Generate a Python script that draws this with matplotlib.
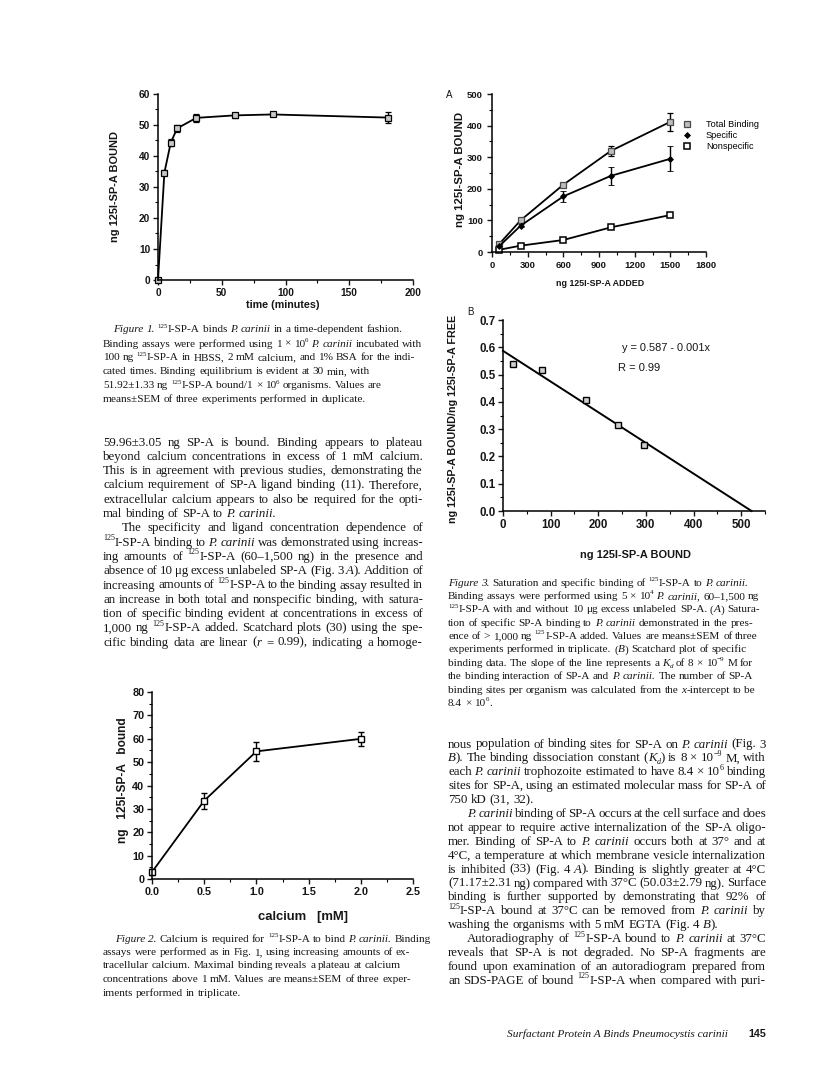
import matplotlib
matplotlib.use("Agg")
import matplotlib.pyplot as plt
from matplotlib.lines import Line2D
from matplotlib.ticker import MultipleLocator

W, H = 816, 1076
SANS = ["Liberation Sans", "DejaVu Sans"]
SERIF = ["Liberation Serif", "DejaVu Serif"]
INK = "#161616"

plt.rcParams["font.family"] = SANS
plt.rcParams["font.weight"] = "bold"
plt.rcParams["axes.linewidth"] = 1.1

# --- Figure 1: binding vs time ---
fig1_time = [0, 5, 10, 15, 30, 60, 90, 180]
fig1_bound = [0.0, 34.6, 44.3, 48.9, 52.3, 53.1, 53.4, 52.4]
fig1_sem = [0.4, 0.8, 1.2, 1.1, 1.2, 0.8, 0.5, 1.8]

# --- Figure 2: binding vs calcium ---
fig2_calcium = [0.0, 0.5, 1.0, 2.0]
fig2_bound = [3.0, 33.5, 54.6, 59.96]
fig2_sem = [1.2, 3.4, 4.2, 3.05]

# --- Figure 3A: saturation ---
fig3a_added = [60, 240, 600, 1000, 1500]
fig3a_total = [25, 100, 213, 320, 412]
fig3a_total_sem = [3, 4, 5, 17, 29]
fig3a_specific = [18, 83, 176, 241, 295]
fig3a_specific_sem = [3, 5, 17, 29, 39]
fig3a_nonspecific = [7, 20, 38, 78, 117]
fig3a_labels = ["Total Binding", "Specific", "Nonspecific"]

# --- Figure 3B: Scatchard ---
fig3b_bound = [20, 82, 175, 241, 295]
fig3b_ratio = [0.537, 0.515, 0.406, 0.315, 0.243]
fit_intercept = 0.587
fit_slope = -0.001125
fit_equation = "y = 0.587 - 0.001x"
fit_r = "R = 0.99"

# --- page text ---
fig1_caption = [
    "_Figure 1._ ^125^I-SP-A binds _P. carinii_ in a time-dependent fashion.",
    "Binding assays were performed using 1 × 10^6^ _P. carinii_ incubated with",
    "100 ng ^125^I-SP-A in HBSS, 2 mM calcium, and 1% BSA for the indi-",
    "cated times. Binding equilibrium is evident at 30 min, with",
    "51.92±1.33 ng ^125^I-SP-A bound/1 × 10^6^ organisms. Values are",
    "means±SEM of three experiments performed in duplicate.",
]
fig2_caption = [
    "_Figure 2._ Calcium is required for ^125^I-SP-A to bind _P. carinii._ Binding",
    "assays were performed as in Fig. 1, using increasing amounts of ex-",
    "tracellular calcium. Maximal binding reveals a plateau at calcium",
    "concentrations above 1 mM. Values are means±SEM of three exper-",
    "iments performed in triplicate.",
]
fig3_caption = [
    "_Figure 3._ Saturation and specific binding of ^125^I-SP-A to _P. carinii._",
    "Binding assays were performed using 5 × 10^4^ _P. carinii,_ 60–1,500 ng",
    "^125^I-SP-A with and without 10 μg excess unlabeled SP-A. (_A_) Satura-",
    "tion of specific SP-A binding to _P. carinii_ demonstrated in the pres-",
    "ence of > 1,000 ng ^125^I-SP-A added. Values are means±SEM of three",
    "experiments performed in triplicate. (_B_) Scatchard plot of specific",
    "binding data. The slope of the line represents a _K~d~_ of 8 × 10^−9^ M for",
    "the binding interaction of SP-A and _P. carinii._ The number of SP-A",
    "binding sites per organism was calculated from the _x_-intercept to be",
    "8.4 × 10^6^.",
]
left_par1 = [
    "59.96±3.05 ng SP-A is bound. Binding appears to plateau",
    "beyond calcium concentrations in excess of 1 mM calcium.",
    "This is in agreement with previous studies, demonstrating the",
    "calcium requirement of SP-A ligand binding (11). Therefore,",
    "extracellular calcium appears to also be required for the opti-",
    "mal binding of SP-A to _P. carinii._",
]
left_par2 = [
    "The specificity and ligand concentration dependence of",
    "^125^I-SP-A binding to _P. carinii_ was demonstrated using increas-",
    "ing amounts of ^125^I-SP-A (60–1,500 ng) in the presence and",
    "absence of 10 μg excess unlabeled SP-A (Fig. 3 _A_). Addition of",
    "increasing amounts of ^125^I-SP-A to the binding assay resulted in",
    "an increase in both total and nonspecific binding, with satura-",
    "tion of specific binding evident at concentrations in excess of",
    "1,000 ng ^125^I-SP-A added. Scatchard plots (30) using the spe-",
    "cific binding data are linear (_r_ = 0.99), indicating a homoge-",
]
right_par1 = [
    "nous population of binding sites for SP-A on _P. carinii_ (Fig. 3",
    "_B_). The binding dissociation constant (_K~d~_) is 8 × 10^−9^ M, with",
    "each _P. carinii_ trophozoite estimated to have 8.4 × 10^6^ binding",
    "sites for SP-A, using an estimated molecular mass for SP-A of",
    "750 kD (31, 32).",
]
right_par2 = [
    "_P. carinii_ binding of SP-A occurs at the cell surface and does",
    "not appear to require active internalization of the SP-A oligo-",
    "mer. Binding of SP-A to _P. carinii_ occurs both at 37° and at",
    "4°C, a temperature at which membrane vesicle internalization",
    "is inhibited (33) (Fig. 4 _A_). Binding is slightly greater at 4°C",
    "(71.17±2.31 ng) compared with 37°C (50.03±2.79 ng). Surface",
    "binding is further supported by demonstrating that 92% of",
    "^125^I-SP-A bound at 37°C can be removed from _P. carinii_ by",
    "washing the organisms with 5 mM EGTA (Fig. 4 _B_).",
]
right_par3 = [
    "Autoradiography of ^125^I-SP-A bound to _P. carinii_ at 37°C",
    "reveals that SP-A is not degraded. No SP-A fragments are",
    "found upon examination of an autoradiogram prepared from",
    "an SDS-PAGE of bound ^125^I-SP-A when compared with puri-",
]
footer_title = "Surfactant Protein A Binds Pneumocystis carinii"
footer_page = "145"

fig = plt.figure(figsize=(W / 100, H / 100), dpi=100)
renderer = fig.canvas.get_renderer()


def px_axes(left, top, right, bottom):
    return fig.add_axes([left / W, 1 - bottom / H, (right - left) / W, (bottom - top) / H])


def style_axes(ax, size, xmaj, xmin, ymaj, ymin, pad=2.0):
    ax.spines[["top", "right"]].set_visible(False)
    ax.patch.set_alpha(0)
    ax.xaxis.set_major_locator(MultipleLocator(xmaj))
    ax.xaxis.set_minor_locator(MultipleLocator(xmin))
    ax.yaxis.set_major_locator(MultipleLocator(ymaj))
    ax.yaxis.set_minor_locator(MultipleLocator(ymin))
    ax.tick_params(which="major", direction="out", length=3.5, width=1.0,
                   labelsize=size, pad=pad, colors=INK)
    ax.tick_params(which="minor", direction="out", length=2.0, width=0.8)


def no_clip(container):
    for art in container.get_children():
        art.set_clip_on(False)


def fit_label(x, y, s, length, rotation=0, weight="bold", ha="center"):
    # taglia il font in modo che il testo occupi `length` pixel
    t = fig.text(x / W, 1 - y / H, s, fontsize=10, rotation=rotation, ha=ha,
                 va="center", weight=weight, family=SANS, color=INK)
    bb = t.get_window_extent(renderer)
    cur = bb.height if rotation == 90 else bb.width
    t.set_fontsize(10 * length / cur)
    return t


# ---------------- Figure 1 ----------------
ax1 = px_axes(158, 94, 413, 280)
c = ax1.errorbar(fig1_time, fig1_bound, yerr=fig1_sem, color="k", lw=1.3,
                 marker="s", ms=4.2, mfc="#c8c8c8", mec="k", mew=0.9,
                 capsize=2.2, elinewidth=1.0, capthick=1.0)
no_clip(c)
ax1.set_xlim(0, 200)
ax1.set_ylim(0, 60)
style_axes(ax1, 7.3, 50, 25, 10, 5)
fit_label(115, 187, "ng 125I-SP-A BOUND", 110, rotation=90)
fit_label(283, 305, "time (minutes)", 74)

# ---------------- Figure 2 ----------------
ax2 = px_axes(152, 692, 413, 879)
c = ax2.errorbar(fig2_calcium, fig2_bound, yerr=fig2_sem, color="k", lw=1.3,
                 marker="s", ms=4.5, mfc="white", mec="k", mew=1.0,
                 capsize=2.4, elinewidth=1.0, capthick=1.0)
no_clip(c)
ax2.set_xlim(0, 2.5)
ax2.set_ylim(0, 80)
style_axes(ax2, 7.8, 0.5, 0.25, 10, 5)
fit_label(123, 780, "ng   125I-SP-A   bound", 125, rotation=90)
fit_label(303, 917, "calcium   [mM]", 90)

# ---------------- Figure 3A ----------------
ax3 = px_axes(492, 94, 706, 252)
s_total = dict(marker="s", ms=3.8, mfc="#bdbdbd", mec="#4a4a4a", mew=0.9)
s_spec = dict(marker="D", ms=3.0, mfc="k", mec="k", mew=0.6)
s_non = dict(marker="s", ms=3.8, mfc="white", mec="k", mew=1.1)
c = ax3.errorbar(fig3a_added, fig3a_total, yerr=fig3a_total_sem, color="k",
                 lw=1.3, capsize=2.2, elinewidth=1.0, capthick=1.0, **s_total)
no_clip(c)
c = ax3.errorbar(fig3a_added, fig3a_specific, yerr=fig3a_specific_sem, color="k",
                 lw=1.3, capsize=2.2, elinewidth=1.0, capthick=1.0, **s_spec)
no_clip(c)
ax3.plot(fig3a_added, fig3a_nonspecific, color="k", lw=1.3, clip_on=False, **s_non)
ax3.set_xlim(0, 1800)
ax3.set_ylim(0, 500)
style_axes(ax3, 6.8, 300, 150, 100, 50, pad=3.0)
handles = [Line2D([], [], ls="none", **s) for s in (s_total, s_spec, s_non)]
ax3.legend(handles, fig3a_labels, loc="upper left",
           bbox_to_anchor=(682 / W, 1 - 120 / H), bbox_transform=fig.transFigure,
           frameon=False, prop=dict(family=SANS, weight="normal", size=6.6),
           handlelength=1.0, handletextpad=1.6, labelspacing=0.22,
           borderpad=0, borderaxespad=0)
fit_label(460, 169, "ng 125I-SP-A BOUND", 114, rotation=90)
fit_label(600, 283, "ng 125I-SP-A ADDED", 88)
fig.text(449 / W, 1 - 95 / H, "A", fontsize=7, weight="normal", ha="center",
         va="center", color=INK)

# ---------------- Figure 3B ----------------
ax4 = px_axes(503, 320, 765, 511)
fit_x = [0, -fit_intercept / fit_slope]
fit_y = [fit_intercept + fit_slope * v for v in fit_x]
ax4.plot(fit_x, fit_y, color="k", lw=1.4, clip_on=False)
ax4.plot(fig3b_bound, fig3b_ratio, ls="none", marker="s", ms=4.5, mfc="#d0d0d0",
         mec="k", mew=1.0, clip_on=False)
ax4.set_xlim(0, 550)
ax4.set_ylim(0, 0.7)
style_axes(ax4, 8.3, 100, 50, 0.1, 0.05)
fit_label(453, 419, "ng 125I-SP-A BOUND/ng 125I-SP-A FREE", 208, rotation=90)
fit_label(635, 555, "ng 125I-SP-A BOUND", 111)
fit_label(622, 348, fit_equation, 88, weight="normal", ha="left")
fit_label(618, 368, fit_r, 42, weight="normal", ha="left")
fig.text(470 / W, 1 - 312 / H, "B", fontsize=7, weight="normal", ha="center",
         va="center", color=INK)


# ---------------- testo della pagina ----------------
def parse(line):
    # _ corsivo, ^ apice, ~ pedice
    words, cur, buf = [], [], []
    state = {"i": False, "sup": False, "sub": False}

    def flush():
        if buf:
            cur.append(("".join(buf), state["i"], state["sup"], state["sub"]))
            buf.clear()

    for ch in line:
        if ch == "_":
            flush(); state["i"] = not state["i"]
        elif ch == "^":
            flush(); state["sup"] = not state["sup"]
        elif ch == "~":
            flush(); state["sub"] = not state["sub"]
        elif ch == " ":
            flush()
            if cur:
                words.append(cur)
                cur = []
        else:
            buf.append(ch)
    flush()
    if cur:
        words.append(cur)
    return words


def make_words(line, size):
    out = []
    for word in parse(line):
        pieces = []
        for txt, ital, sup, sub in word:
            fs = size * (0.62 if (sup or sub) else 1.0)
            t = fig.text(0, 0, txt, fontsize=fs, family=SERIF, weight="normal",
                         style="italic" if ital else "normal", color=INK,
                         ha="left", va="baseline")
            w = t.get_window_extent(renderer).width
            shift = size * 0.42 if sup else (-size * 0.22 if sub else 0.0)
            pieces.append((t, w, shift))
        out.append(pieces)
    return out


def space_px(size):
    a = fig.text(0, 0, "n n", fontsize=size, family=SERIF, weight="normal")
    b = fig.text(0, 0, "nn", fontsize=size, family=SERIF, weight="normal")
    d = a.get_window_extent(renderer).width - b.get_window_extent(renderer).width
    a.remove(); b.remove()
    return d


def natural_width(line, size):
    words = make_words(line, size)
    total = sum(w for p in words for _, w, _ in p) + space_px(size) * (len(words) - 1)
    for p in words:
        for t, _, _ in p:
            t.remove()
    return total


def set_line(line, x0, x1, y, size, justify):
    words = make_words(line, size)
    widths = [sum(w for _, w, _ in p) for p in words]
    if justify and len(words) > 1:
        gap = (x1 - x0 - sum(widths)) / (len(words) - 1)
    else:
        gap = space_px(size)
    x = x0
    for p, wsum in zip(words, widths):
        for t, w, shift in p:
            t.set_position((x / W, 1 - (y - shift * 100 / 72) / H))
            x += w
        x += gap


def set_block(lines, x0, x1, y0, lead, size, indent=0, justify=True, last_full=False):
    for i, line in enumerate(lines):
        last = i == len(lines) - 1
        set_line(line, x0 + (indent if i == 0 else 0), x1, y0 + i * lead + 3.5,
                 size, justify and (not last or last_full))


body_size = 10 * 330 / natural_width(left_par2[4], 10)
cap_size = 10 * 319 / natural_width(fig1_caption[1], 10)

LX0, LX1 = 103, 423
RX0, RX1 = 448, 766
INDENT = 19

set_block(fig1_caption, LX0, LX1, 329, 14.0, cap_size, indent=10, justify=False)
set_block(left_par1, LX0, LX1, 442, 14.3, body_size)
set_block(left_par2, LX0, LX1, 442 + 6 * 14.3, 14.3, body_size, indent=INDENT,
          last_full=True)
set_block(fig2_caption, LX0, LX1, 938, 13.5, cap_size, indent=12, justify=False)
set_block(fig3_caption, RX0, RX1, 582, 13.4, cap_size, justify=False)
set_block(right_par1, RX0, RX1, 744, 13.9, body_size)
set_block(right_par2, RX0, RX1, 744 + 5 * 13.9, 13.9, body_size, indent=INDENT)
set_block(right_par3, RX0, RX1, 744 + 14 * 13.9, 13.9, body_size, indent=INDENT,
          last_full=True)

t = fig.text(507 / W, 1 - 1037 / H, footer_title, fontsize=10, family=SERIF,
             style="italic", weight="normal", color=INK, va="baseline")
t.set_fontsize(10 * 221 / t.get_window_extent(renderer).width)
t = fig.text(748 / W, 1 - 1037 / H, footer_page, fontsize=10, family=SANS,
             weight="bold", color=INK, va="baseline")
t.set_fontsize(10 * 18 / t.get_window_extent(renderer).width)

fig.savefig("out.png", dpi=100, facecolor="white")
